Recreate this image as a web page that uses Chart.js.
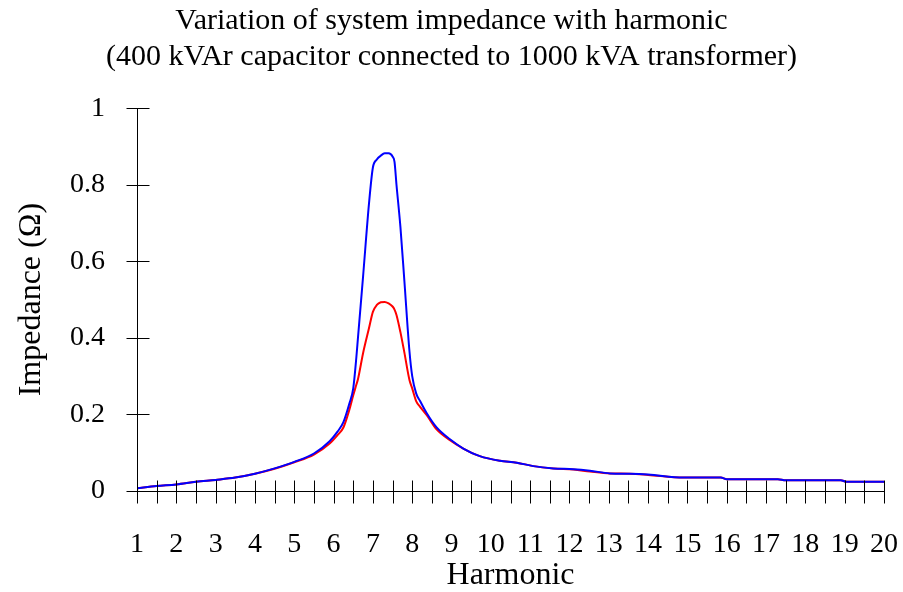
<!DOCTYPE html>
<html>
<head>
<meta charset="utf-8">
<script src="https://cdn.jsdelivr.net/npm/chart.js@4.4.0/dist/chart.umd.min.js"></script>
<style>
  body { margin: 0; background: #fff; }
  #wrap { width: 903px; height: 592px; position: relative; }
</style>
</head>
<body>
<div id="wrap"><canvas id="myChart"></canvas></div>
<script>
// Harmonic order (x) and impedance readings (ohm) for both curves
const harmonics = [1, 1.5, 2, 2.5, 3, 3.5, 4, 4.5, 5, 5.5, 5.9, 6.1, 6.25, 6.4, 6.5, 6.58, 6.62, 6.75, 6.9, 7.0,
  7.1, 7.2, 7.3, 7.4, 7.5, 7.55, 7.6, 7.7, 7.8, 7.93, 8.0, 8.1, 8.2, 8.37, 8.62, 8.96, 9.3, 9.72, 10.23, 10.66,
  11.08, 11.59, 12.1, 12.52, 13.03, 13.54, 14.0, 14.9, 15.85, 16.0, 17.3, 17.5, 18.9, 19.05, 20];
const impedanceBlue = [0.007, 0.013, 0.017, 0.024, 0.029, 0.035, 0.045, 0.059, 0.076, 0.098, 0.13, 0.155, 0.18, 0.228, 0.268, 0.35, 0.40, 0.56, 0.75, 0.845,
  0.866, 0.876, 0.882, 0.882, 0.874, 0.86, 0.80, 0.69, 0.55, 0.365, 0.30, 0.255, 0.235, 0.203, 0.166, 0.135, 0.111, 0.091, 0.079, 0.074,
  0.065, 0.059, 0.057, 0.053, 0.046, 0.045, 0.043, 0.035, 0.035, 0.031, 0.031, 0.028, 0.028, 0.024, 0.024];
const impedanceRed = [0.007, 0.013, 0.017, 0.024, 0.029, 0.035, 0.045, 0.058, 0.075, 0.095, 0.124, 0.146, 0.166, 0.212, 0.25, 0.278, 0.292, 0.36, 0.425, 0.468,
  0.486, 0.493, 0.494, 0.49, 0.482, 0.474, 0.46, 0.415, 0.362, 0.29, 0.268, 0.235, 0.22, 0.198, 0.161, 0.133, 0.111, 0.091, 0.079, 0.074,
  0.065, 0.059, 0.056, 0.051, 0.046, 0.045, 0.042, 0.035, 0.035, 0.031, 0.031, 0.028, 0.028, 0.024, 0.024];
const titleLines = ['Variation of system impedance with harmonic', '(400 kVAr capacitor connected to 1000 kVA transformer)'];

const serif = "'Liberation Serif', 'Times New Roman', serif";

// axis lines + tick marks that cross the axis (like the old Excel look)
const crossTicks = {
  id: 'crossTicks',
  afterDraw(chart) {
    const { ctx, scales: { x, y } } = chart;
    const x0 = Math.round(x.getPixelForValue(x.min)) + 0.5;
    const x1 = Math.round(x.getPixelForValue(x.max)) + 0.5;
    const y0 = Math.round(y.getPixelForValue(0)) + 0.5;
    const yTop = Math.round(y.getPixelForValue(y.max)) + 0.5;
    ctx.save();
    ctx.strokeStyle = '#000';
    ctx.lineWidth = 1;
    ctx.beginPath();
    ctx.moveTo(x0, yTop); ctx.lineTo(x0, y0);
    ctx.moveTo(x0, y0); ctx.lineTo(x1, y0);
    for (let h = x.min; h <= x.max + 1e-9; h += 0.5) {
      const px = Math.round(x.getPixelForValue(h)) + 0.5;
      ctx.moveTo(px, y0 - 11); ctx.lineTo(px, y0 + 12);
    }
    y.ticks.forEach(t => {
      const py = Math.round(y.getPixelForValue(t.value)) + 0.5;
      ctx.moveTo(x0 - 11, py); ctx.lineTo(x0 + 12, py);
    });
    ctx.stroke();
    ctx.restore();
  }
};

const ctx = document.getElementById('myChart').getContext('2d');
const chart = new Chart(ctx, {
  type: 'line',
  data: {
    datasets: [
      {
        label: 'Blue',
        data: harmonics.map((h, i) => ({ x: h, y: impedanceBlue[i] })),
        borderColor: '#0000ff',
        borderWidth: 2,
        pointRadius: 0,
        fill: false,
        cubicInterpolationMode: 'monotone'
      },
      {
        label: 'Red',
        data: harmonics.map((h, i) => ({ x: h, y: impedanceRed[i] })),
        borderColor: '#ff0000',
        borderWidth: 2,
        pointRadius: 0,
        fill: false,
        cubicInterpolationMode: 'monotone'
      }
    ]
  },
  options: {
    responsive: true,
    maintainAspectRatio: false,
    animation: false,
    // symmetric side padding keeps the title centred on the page
    layout: { padding: { left: 19, right: 19, top: 0, bottom: 0 } },
    plugins: {
      legend: { display: false },
      tooltip: { enabled: false },
      title: {
        display: true,
        text: titleLines,
        color: '#000',
        font: { family: serif, size: 30, weight: 'normal', lineHeight: 1.17 },
        padding: { top: 4, bottom: 34 }
      }
    },
    scales: {
      x: {
        type: 'linear',
        min: 1,
        max: 20,
        // invisible tick marks just to push the labels down
        grid: { display: true, drawOnChartArea: false, drawTicks: true, tickLength: 37, color: 'rgba(0,0,0,0)' },
        border: { display: false },
        ticks: {
          stepSize: 1,
          autoSkip: false,
          maxRotation: 0,
          padding: 0,
          color: '#000',
          font: { family: serif, size: 28 }
        },
        title: {
          display: true,
          text: 'Harmonic',
          color: '#000',
          font: { family: serif, size: 32, lineHeight: 1 },
          padding: 0
        },
        afterFit: (scale) => { scale.height = 101; }
      },
      y: {
        min: 0,
        max: 1,
        grid: { display: false, drawTicks: false },
        border: { display: false },
        ticks: {
          stepSize: 0.2,
          padding: 32,
          color: '#000',
          font: { family: serif, size: 28 },
          callback: (v) => String(Number(v.toFixed(2)))
        },
        title: {
          display: true,
          text: 'Impedance (Ω)',
          color: '#000',
          font: { family: serif, size: 32, lineHeight: 0.8 },
          padding: { top: 0, bottom: 0 }
        },
        afterFit: (scale) => { scale.width = 118; }
      }
    }
  },
  plugins: [crossTicks]
});
</script>
</body>
</html>
